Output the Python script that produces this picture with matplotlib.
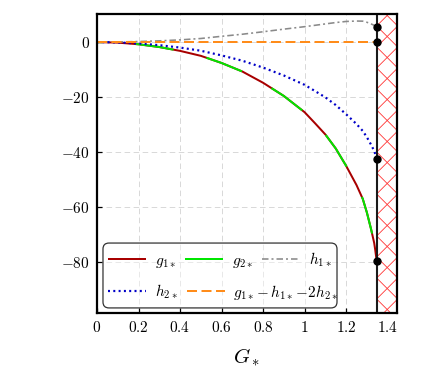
import matplotlib
matplotlib.use('Agg')
import matplotlib.pyplot as plt
from matplotlib.lines import Line2D
from matplotlib.patches import FancyBboxPatch
from matplotlib.ticker import FuncFormatter, MultipleLocator

plt.rcParams['mathtext.fontset'] = 'cm'
plt.rcParams['lines.scale_dashes'] = False

# ---------------------------------------------------
# data
# ---------------------------------------------------
G = [0.0, 0.1, 0.2, 0.3, 0.4, 0.5, 0.6, 0.7, 0.8, 0.9, 1.0, 1.05, 1.1, 1.15,
     1.2, 1.25, 1.28, 1.3, 1.32, 1.335, 1.34, 1.347]
g1 = [0.0, -0.2, -0.8, -1.8, -3.2, -5.0, -7.6, -10.7, -14.8, -19.6, -25.5, -29.5,
      -33.6, -38.7, -45.0, -52.0, -57.0, -62.0, -68.0, -73.0, -75.5, -79.5]
g2 = list(g1)  # g2 lies on top of g1 in the picture
h1 = [0.0, 0.05, 0.2, 0.45, 0.8, 1.3, 2.1, 2.85, 3.75, 4.7, 5.6, 6.1, 6.6, 7.1,
      7.5, 7.65, 7.6, 7.2, 6.6, 6.1, 5.85, 5.6]
h2 = [0.0, -0.12, -0.5, -1.12, -2.0, -3.15, -4.85, -6.78, -9.28, -12.15, -15.55,
      -17.8, -20.1, -22.9, -26.25, -29.8, -32.3, -34.6, -37.3, -39.55, -40.7, -42.55]
combo = [0.0, 0.0, 0.0, 0.0, 0.0, 0.0, 0.0, 0.0, 0.0, 0.0, 0.0, 0.0, 0.0, 0.0,
         0.0, 0.0, 0.0, 0.0, 0.0, 0.0, 0.0, 0.0]

labels = [r'$g_{1\ast}$', r'$g_{2\ast}$', r'$h_{1\ast}$', r'$h_{2\ast}$',
          r'$g_{1\ast}\!-h_{1\ast}\!-\!2h_{2\ast}$']

PX = 0.72  # points per pixel at dpi 100

C_G1 = '#a80000'
C_G2 = '#00e600'
C_H1 = '#8a8a8a'
C_H2 = '#0000c8'
C_CB = '#ff8c1a'

ST_G1 = dict(color=C_G1, lw=2 * PX, solid_capstyle='butt')
ST_G2 = dict(color=C_G2, lw=2 * PX, solid_capstyle='butt')
ST_H1 = dict(color=C_H1, lw=1.6 * PX, ls=(0, (6.5 * PX, 3 * PX, 2 * PX, 3 * PX)))
ST_H2 = dict(color=C_H2, lw=2.2 * PX, ls=(0, (2 * PX, 3.3 * PX)))
ST_CB = dict(color=C_CB, lw=2 * PX, ls=(0, (10 * PX, 4.5 * PX)))


def cross_hatch(ax, x0_data, step_px=21, c0=0.679, color='#ff3333'):
    # red crossed lines at 45 degrees in the excluded strip
    lo, hi = ax.get_xlim()
    x0 = (x0_data - lo) / (hi - lo)
    bb = ax.get_window_extent()
    r = bb.width / bb.height
    dy = step_px / bb.height
    rise = (1 - x0) * r
    for k in range(-25, 25):
        c = c0 + k * dy
        for sgn in (1, -1):
            ax.plot([x0, 1], [c, c + sgn * rise], transform=ax.transAxes,
                    color=color, lw=0.6, zorder=2.6, clip_on=True,
                    solid_capstyle='butt')


def main():
    fig = plt.figure(figsize=(4.28, 3.82), dpi=100)
    ax = fig.add_axes([0.2266, 0.1806, 0.701, 0.7827])

    ax.set_xlim(0, 1.445)
    ax.set_ylim(-98.5, 10.2)

    xc = G[-1]
    ax.axvspan(xc, 1.5, facecolor='white', lw=0, zorder=2.5)
    cross_hatch(ax, xc)

    ax.plot(G, g1, zorder=3, **ST_G1)
    ax.plot(G, g2, color=C_G2, lw=2 * PX, solid_capstyle='butt',
            ls=(33 * PX, (38 * PX, 34 * PX)), zorder=3)
    ax.plot(G, h1, zorder=3, **ST_H1)
    ax.plot(G, h2, zorder=3, **ST_H2)
    ax.plot(G, combo, zorder=3, **ST_CB)

    ax.axvline(xc, color='#1a1a1a', lw=1.5, zorder=4)
    ax.plot([xc] * 4, [h1[-1], combo[-1], h2[-1], g1[-1]], ls='', marker='o',
            ms=5, color='black', zorder=6)

    ax.set_xlim(0, 1.445)
    ax.set_ylim(-98.5, 10.2)
    ax.xaxis.set_major_locator(MultipleLocator(0.2))
    ax.yaxis.set_major_locator(MultipleLocator(20))
    fmt = FuncFormatter(lambda v, p: f'${v:g}$')
    ax.xaxis.set_major_formatter(fmt)
    ax.yaxis.set_major_formatter(fmt)
    ax.tick_params(direction='in', length=3.5, width=0.9, labelsize=11, pad=5)
    for s in ax.spines.values():
        s.set_linewidth(1.6)
        s.set_zorder(7)
    ax.grid(True, color='#d8d8d8', lw=0.7, ls=(0, (4, 2.5)))
    ax.set_axisbelow(True)
    ax.set_xlabel(r'$G_\ast$', fontsize=15, labelpad=8)

    # legend: two rows built separately, one shared frame
    hg1 = Line2D([], [], **ST_G1)
    hg2 = Line2D([], [], **ST_G2)
    hh1 = Line2D([], [], **ST_H1)
    hh2 = Line2D([], [], **ST_H2)
    hcb = Line2D([], [], **ST_CB)
    opts = dict(loc='center left', frameon=False, borderpad=0, borderaxespad=0,
                handlelength=2.5, handletextpad=0.55, columnspacing=0.6, fontsize=11)
    leg1 = ax.legend([hg1, hg2, hh1], labels[:3], ncol=3, bbox_to_anchor=(0.037, 0.177), **opts)
    ax.add_artist(leg1)
    ax.legend([hh2, hcb], labels[3:], ncol=2, bbox_to_anchor=(0.037, 0.070), **opts)
    frame = FancyBboxPatch((0.02, 0.017), 0.78, 0.217,
                           boxstyle='round,pad=0,rounding_size=0.02',
                           transform=ax.transAxes, facecolor=(1, 1, 1, 0.4),
                           edgecolor='#333333', lw=0.9, zorder=4.5)
    ax.add_patch(frame)

    fig.savefig('out.png', dpi=100)


if __name__ == '__main__':
    main()
